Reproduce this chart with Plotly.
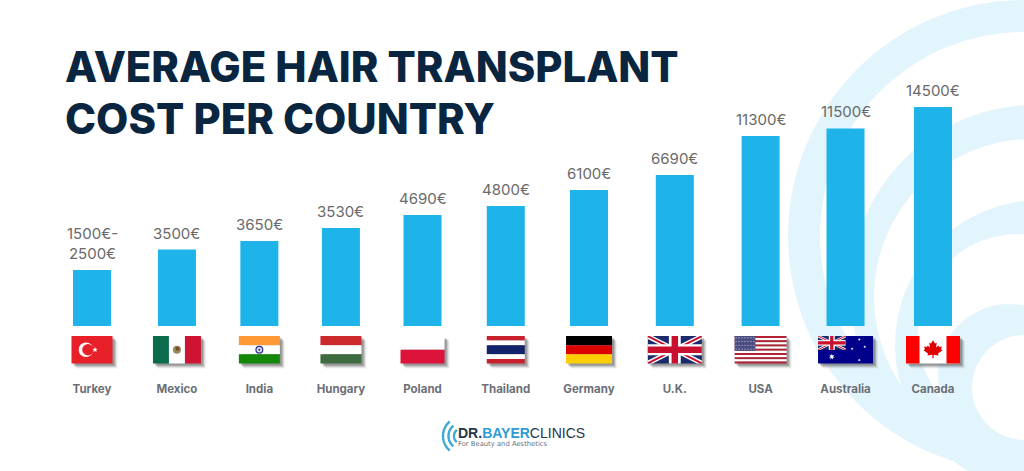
import numpy as np
import plotly.graph_objects as go

countries = ["Turkey", "Mexico", "India", "Hungary", "Poland", "Thailand", "Germany", "U.K.", "USA", "Australia", "Canada"]
cost_labels = ["1500€-<br>2500€", "3500€", "3650€", "3530€", "4690€", "4800€", "6100€", "6690€", "11300€", "11500€", "14500€"]
# the bars in the picture are not to scale with their printed costs,
# so heights are read off the picture against the Canada bar
bar_heights = [3700, 5060, 5630, 6490, 7350, 7950, 9000, 10000, 12580, 13080, 14500]

W, H = 1024, 471
BASE_Y = 326
SLOT_PX = 84.1
FIRST_PX = 92
EUR_PER_PX = 66.2
BLUE = "#1EB4EA"
PALE = "#E3F5FC"
NAVY = "#0A2540"

# spacing of the columns is slightly uneven in the picture
slots = [0, 1.01, 1.99, 2.96, 3.93, 4.92, 5.91, 6.93, 7.95, 8.96, 10]
flag_widths = [41, 48, 41, 41, 44, 38, 46, 54, 52, 55, 54]
FLAG_TOP, FLAG_BOT = 336, 363.5

shapes = []


def X(x):
    return x / W


def Y(y):
    return 1 - y / H


def rect(x0, y0, x1, y1, color, opacity=1, layer="above"):
    shapes.append(dict(type="rect", xref="paper", yref="paper", x0=X(x0), x1=X(x1), y0=Y(y0), y1=Y(y1),
                       fillcolor=color, opacity=opacity, line_width=0, layer=layer))


def disk(cx, cy, r, color, layer="above"):
    shapes.append(dict(type="circle", xref="paper", yref="paper", x0=X(cx - r), x1=X(cx + r), y0=Y(cy - r), y1=Y(cy + r),
                       fillcolor=color, line_width=0, layer=layer))


def poly(pts, color, layer="above"):
    d = "M" + " L".join(f"{X(p[0]):.5f},{Y(p[1]):.5f}" for p in pts) + " Z"
    shapes.append(dict(type="path", xref="paper", yref="paper", path=d, fillcolor=color, line_width=0, layer=layer))


def star(cx, cy, r, color, n=5, rot=-90):
    a = np.radians(rot + np.arange(n * 2) * 180 / n)
    rr = np.where(np.arange(n * 2) % 2 == 0, r, r * 0.42)
    poly(list(zip(cx + rr * np.cos(a), cy + rr * np.sin(a))), color)


def stripes(x0, x1, colors, weights=None):
    weights = weights or [1] * len(colors)
    y = FLAG_TOP
    step = (FLAG_BOT - FLAG_TOP) / sum(weights)
    for c, w in zip(colors, weights):
        rect(x0, y, x1, y + step * w, c)
        y += step * w


def band(x0, y0, x1, y1, t, color):
    # both diagonals of a box, t is half the band size
    poly([(x0, y0), (x0 + t, y0), (x1, y1 - t * 0.6), (x1, y1), (x1 - t, y1), (x0, y0 + t * 0.6)], color)
    poly([(x1, y0), (x1 - t, y0), (x0, y1 - t * 0.6), (x0, y1), (x0 + t, y1), (x1, y0 + t * 0.6)], color)


def union_jack(x0, y0, x1, y1):
    w, h = x1 - x0, y1 - y0
    cx, cy = (x0 + x1) / 2, (y0 + y1) / 2
    rect(x0, y0, x1, y1, "#1B2A6B")
    band(x0, y0, x1, y1, w * 0.09, "#FFFFFF")
    band(x0, y0, x1, y1, w * 0.035, "#C8102E")
    rect(cx - w * 0.11, y0, cx + w * 0.11, y1, "#FFFFFF")
    rect(x0, cy - h * 0.2, x1, cy + h * 0.2, "#FFFFFF")
    rect(cx - w * 0.06, y0, cx + w * 0.06, y1, "#C8102E")
    rect(x0, cy - h * 0.12, x1, cy + h * 0.12, "#C8102E")


def draw_flag(name, x0, x1):
    cx = (x0 + x1) / 2
    cy = (FLAG_TOP + FLAG_BOT) / 2
    w = x1 - x0
    if name == "Turkey":
        rect(x0, FLAG_TOP, x1, FLAG_BOT, "#E8202A")
        disk(cx - 6, cy, 7.3, "#FFFFFF")
        disk(cx - 4, cy, 5.8, "#E8202A")
        star(cx + 3, cy, 2.8, "#FFFFFF")
    elif name == "Mexico":
        rect(x0, FLAG_TOP, x0 + w / 3, FLAG_BOT, "#0B6B4C")
        rect(x0 + w / 3, FLAG_TOP, x1 - w / 3, FLAG_BOT, "#FFFFFF")
        rect(x1 - w / 3, FLAG_TOP, x1, FLAG_BOT, "#CE1430")
        disk(cx, cy, 4, "#9A8A5E")
        disk(cx + 0.5, cy - 1, 2, "#7A4A2A")
    elif name == "India":
        stripes(x0, x1, ["#FF9933", "#FFFFFF", "#138808"])
        disk(cx, cy, 4, "#2B2F8F")
        disk(cx, cy, 2.8, "#D8DAF0")
        disk(cx, cy, 1, "#2B2F8F")
    elif name == "Hungary":
        stripes(x0, x1, ["#CD2A2E", "#FFFFFF", "#3F6B40"])
    elif name == "Poland":
        stripes(x0, x1, ["#FFFFFF", "#DC143C"])
    elif name == "Thailand":
        stripes(x0, x1, ["#C8202F", "#FFFFFF", "#12236B", "#FFFFFF", "#C8202F"], [1, 1, 2, 1, 1])
    elif name == "Germany":
        stripes(x0, x1, ["#000000", "#DD0000", "#FFCE00"])
    elif name == "U.K.":
        union_jack(x0, FLAG_TOP, x1, FLAG_BOT)
    elif name == "USA":
        stripes(x0, x1, ["#B22234", "#FFFFFF"] * 6 + ["#B22234"])
        cw = w * 0.4
        ch = (FLAG_BOT - FLAG_TOP) * 7 / 13
        rect(x0, FLAG_TOP, x0 + cw, FLAG_TOP + ch, "#4A4C82")
        for i in range(7):
            for j in range(4):
                disk(x0 + (i + 0.5) * cw / 7, FLAG_TOP + (j + 0.5) * ch / 4, 0.55, "#E4E4F0")
    elif name == "Australia":
        rect(x0, FLAG_TOP, x1, FLAG_BOT, "#00008B")
        union_jack(x0, FLAG_TOP, x0 + w / 2, cy)
        star(x0 + w * 0.25, cy + 7, 3.2, "#FFFFFF", n=7)
        star(x0 + w * 0.75, FLAG_TOP + 3.5, 1.5, "#FFFFFF", n=7)
        star(x0 + w * 0.62, cy - 1, 1.5, "#FFFFFF", n=7)
        star(x0 + w * 0.85, cy - 3, 1.5, "#FFFFFF", n=7)
        star(x0 + w * 0.75, FLAG_BOT - 3.5, 1.5, "#FFFFFF", n=7)
    elif name == "Canada":
        rect(x0, FLAG_TOP, x1, FLAG_BOT, "#FFFFFF")
        rect(x0, FLAG_TOP, x0 + w / 4, FLAG_BOT, "#FF0000")
        rect(x1 - w / 4, FLAG_TOP, x1, FLAG_BOT, "#FF0000")
        half = [(0, -10), (2, -6.5), (3.8, -7.3), (3, -2.5), (5.4, -4.6), (6, -3), (9, -3.5), (8, -0.5), (9.5, 0.5),
                (5, 4), (5.5, 6), (0.6, 5.3), (0.6, 9)]
        leaf = [(cx + a, cy + b * 0.95) for a, b in half] + [(cx - a, cy + b * 0.95) for a, b in reversed(half)]
        poly(leaf, "#E00000")


# background rings, pale and white disks painted over each other
for cx, cy, r, c in [(1024, 236, 236, PALE), (1024, 236, 204, "#FFFFFF"),
                     (1035, 290, 185, PALE), (1032, 297, 158, "#FFFFFF"),
                     (1040, 345, 145, PALE), (1018, 334, 100, "#FFFFFF"),
                     (1009, 375, 71, PALE), (1024.5, 387.5, 52.5, "#FFFFFF")]:
    disk(cx, cy, r, c, layer="below")

for name, slot, fw in zip(countries, slots, flag_widths):
    center = FIRST_PX + slot * SLOT_PX
    x0, x1 = center - fw / 2, center + fw / 2
    for off, op in [(5, 0.07), (4, 0.12), (3, 0.18), (2, 0.25)]:
        rect(x0 + off, FLAG_TOP + off, x1 + off, FLAG_BOT + off, "#303030", opacity=op)
    draw_flag(name, x0, x1)

# logo arcs
for r in [8, 13.5, 19]:
    a = np.radians(np.linspace(130, 230, 24))
    pts = list(zip(462 + r * np.cos(a), 436 + r * np.sin(a)))
    d = "M" + " L".join(f"{X(p[0]):.5f},{Y(p[1]):.5f}" for p in pts)
    shapes.append(dict(type="path", xref="paper", yref="paper", path=d, line=dict(color="#3FA9D6", width=2.4)))

fig = go.Figure(go.Bar(x=slots, y=bar_heights, width=0.452, marker=dict(color=BLUE, line_width=0)))

annotations = []
for slot, height, label in zip(slots, bar_heights, cost_labels):
    annotations.append(dict(x=slot, y=height, xref="x", yref="y", text=label, showarrow=False,
                            yanchor="bottom", yshift=5, font=dict(family="Inter", size=15, color="#6A6A6A")))

for text, y in [("AVERAGE HAIR TRANSPLANT", 67), ("COST PER COUNTRY", 119)]:
    annotations.append(dict(x=X(63), y=Y(y), xref="paper", yref="paper", text=text, showarrow=False,
                            xanchor="left", yanchor="middle",
                            font=dict(family="Inter", size=41.8, color=NAVY, weight=800)))

logo = ("<b><span style='color:#26364A'>DR.</span><span style='color:#2E9BD6'>BAYER</span></b>"
        "<span style='color:#26364A'>CLINICS</span>")
annotations.append(dict(x=X(456), y=Y(433), xref="paper", yref="paper", text=logo, showarrow=False,
                        xanchor="left", yanchor="middle", font=dict(family="Liberation Sans", size=14)))
annotations.append(dict(x=X(456), y=Y(444), xref="paper", yref="paper", text="For Beauty and Aesthetics", showarrow=False,
                        xanchor="left", yanchor="middle", font=dict(family="DejaVu Sans", size=6.8, color="#5E7686")))

fig.update_layout(
    width=W, height=H, margin=dict(l=0, r=0, t=0, b=0), showlegend=False,
    paper_bgcolor="white", plot_bgcolor="rgba(0,0,0,0)",
    shapes=shapes, annotations=annotations,
    xaxis=dict(range=[-FIRST_PX / SLOT_PX, (W - FIRST_PX) / SLOT_PX], showgrid=False, zeroline=False, showline=False,
               tickmode="array", tickvals=slots, ticktext=countries, ticks="outside", ticklen=52,
               tickcolor="rgba(0,0,0,0)", tickfont=dict(family="Inter", size=11.5, color="#6B6F76", weight=700)),
    yaxis=dict(domain=[(H - BASE_Y) / H, 1], range=[0, BASE_Y * EUR_PER_PX], visible=False),
)

fig.write_html("out.html", config=dict(displayModeBar=False), post_script="document.body.style.margin='0';")
